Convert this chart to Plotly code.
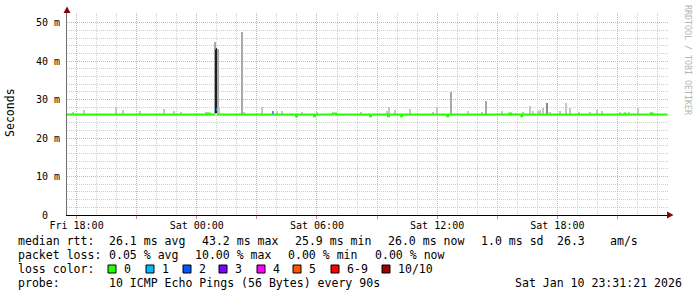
import plotly.graph_objects as go
import pandas as pd

# ---------------- data ----------------
t_start = "2026-01-09 17:31:21"
t_end = "2026-01-10 23:31:21"

x_tick_vals = ["2026-01-09 18:00", "2026-01-09 21:00", "2026-01-10 00:00", "2026-01-10 03:00",
               "2026-01-10 06:00", "2026-01-10 09:00", "2026-01-10 12:00", "2026-01-10 15:00",
               "2026-01-10 18:00", "2026-01-10 21:00"]
x_tick_text = ["Fri 18:00", "", "Sat 00:00", "", "Sat 06:00", "", "Sat 12:00", "", "Sat 18:00", ""]

y_tick_vals = [0, 10, 20, 30, 40, 50]
y_tick_text = ["0\u00a0\u00a0", "10 m", "20 m", "30 m", "40 m", "50 m"]

# median rtt (ms) as step series, with packet loss count per step
median_time = ["2026-01-09 17:31", "2026-01-10 00:33", "2026-01-10 00:39", "2026-01-10 00:54",
               "2026-01-10 00:58", "2026-01-10 01:01", "2026-01-10 03:45", "2026-01-10 03:48",
               "2026-01-10 04:57", "2026-01-10 05:00", "2026-01-10 05:51", "2026-01-10 05:54",
               "2026-01-10 06:48", "2026-01-10 06:57", "2026-01-10 08:39", "2026-01-10 08:42",
               "2026-01-10 09:33", "2026-01-10 09:36", "2026-01-10 10:12", "2026-01-10 10:15",
               "2026-01-10 12:30", "2026-01-10 12:33", "2026-01-10 15:36", "2026-01-10 15:42",
               "2026-01-10 16:12", "2026-01-10 16:15", "2026-01-10 21:21", "2026-01-10 21:24",
               "2026-01-10 22:42", "2026-01-10 22:45", "2026-01-10 23:30"]
median_val = [26.1, 26.4, 26.1, 43.2, 27.4, 26.1, 26.1, 26.1,
              25.7, 26.1, 25.7, 26.1, 26.4, 26.1, 25.7, 26.1,
              25.7, 26.1, 25.7, 26.1, 25.7, 26.1, 26.4, 26.1,
              25.7, 26.1, 26.4, 26.1, 26.4, 26.1, 26.0]
median_loss = [0, 0, 0, 1, 1, 0, 1, 0,
               0, 0, 0, 0, 0, 0, 0, 0,
               0, 0, 0, 0, 0, 0, 0, 0,
               0, 0, 0, 0, 0, 0, 0]

# smoke (spread of individual pings), ms
smoke_time = ["2026-01-09 17:48", "2026-01-09 18:21", "2026-01-09 19:57", "2026-01-09 20:20",
              "2026-01-09 21:09", "2026-01-09 22:21", "2026-01-09 22:51", "2026-01-09 23:12",
              "2026-01-10 00:27", "2026-01-10 00:54", "2026-01-10 00:57:30", "2026-01-10 01:03",
              "2026-01-10 01:06", "2026-01-10 02:15", "2026-01-10 02:21", "2026-01-10 03:15",
              "2026-01-10 03:47", "2026-01-10 04:00", "2026-01-10 04:14", "2026-01-10 05:15",
              "2026-01-10 06:00", "2026-01-10 08:12", "2026-01-10 09:30", "2026-01-10 09:36",
              "2026-01-10 09:54", "2026-01-10 10:39", "2026-01-10 11:48", "2026-01-10 12:00",
              "2026-01-10 12:43", "2026-01-10 13:33", "2026-01-10 14:15", "2026-01-10 14:27",
              "2026-01-10 15:15", "2026-01-10 15:57", "2026-01-10 16:17", "2026-01-10 16:39",
              "2026-01-10 16:48", "2026-01-10 17:03", "2026-01-10 17:09", "2026-01-10 17:17",
              "2026-01-10 17:30", "2026-01-10 17:39", "2026-01-10 18:09", "2026-01-10 18:27",
              "2026-01-10 18:39", "2026-01-10 19:06", "2026-01-10 19:39", "2026-01-10 20:00",
              "2026-01-10 20:15", "2026-01-10 21:09", "2026-01-10 21:36", "2026-01-10 22:03",
              "2026-01-10 22:42"]
smoke_low = [26.2] * 9 + [26.2, 26.6, 26.2] + [26.2] * 41
smoke_high = [26.7, 27.3, 28.0, 27.3, 27.0, 27.5, 27.0, 26.9,
              26.8, 45.0, 43.3, 43.2,
              28.2, 47.7, 26.8, 28.0, 27.0, 27.0, 27.0, 26.8,
              26.9, 26.9, 27.0, 28.0, 27.3, 27.5, 26.8, 28.1,
              31.9, 27.0, 26.8, 29.7, 27.0, 26.6, 26.8, 28.3,
              27.0, 27.0, 27.3, 27.9, 29.1, 26.8, 27.0, 29.1,
              27.9, 26.8, 26.8, 27.3, 27.0, 26.8, 26.8, 27.9,
              26.8]
smoke_pings = [1, 1, 1, 1, 1, 1, 1, 1,
               1, 2, 8, 2,
               1, 2, 1, 1, 3, 1, 1, 1,
               1, 1, 1, 1, 1, 1, 1, 1,
               2, 1, 1, 2, 1, 1, 1, 1,
               1, 1, 1, 1, 3, 1, 1, 1,
               1, 1, 1, 1, 1, 1, 1, 1,
               1]

loss_labels = ["0", "1", "2", "3", "4", "5", "6-9", "10/10"]
loss_colors = ["#26ff00", "#00b8ff", "#0059ff", "#7e00ff", "#ff00ff", "#ff5500", "#ff0000", "#a10000"]

rtt_stats = ["26.1 ms avg", "43.2 ms max", "25.9 ms min", "26.0 ms now", "1.0 ms sd", "26.3", "am/s"]
loss_stats = ["0.05 % avg", "10.00 % max", "0.00 % min", "0.00 % now"]
probe_text = "10 ICMP Echo Pings (56 Bytes) every 90s"
stamp_text = "Sat Jan 10 23:31:21 2026"

# ---------------- layout geometry ----------------
W, H = 697, 297
L, R, T, B = 67, 29, 13, 82
PW, PH = W - L - R, H - T - B
MONO = "DejaVu Sans Mono"
FS = 11.56


def px(x):
    return (x - L) / PW


def py(y):
    return (H - B - y) / PH


fig = go.Figure()

# smoke
shade = {1: "#c6c6c6", 2: "#a9a9a9", 3: "#8a8a8a", 8: "#1e1e1e"}
widths = [420000 if p == 8 else 200000 for p in smoke_pings]
fig.add_trace(go.Bar(
    x=smoke_time, base=smoke_low,
    y=[h - l for h, l in zip(smoke_high, smoke_low)],
    width=widths,
    marker=dict(color=[shade[p] for p in smoke_pings], line=dict(width=0)),
    hoverinfo="skip", showlegend=False))

# median line, coloured by loss (vertical joins only inside the no-loss line)
for code in sorted(set(median_loss)):
    xs, ys = [], []
    n = len(median_time) - 1
    for i in range(n):
        if median_loss[i] != code:
            continue
        xs += [median_time[i], median_time[i + 1]]
        ys += [median_val[i], median_val[i]]
        if code == 0 and i + 1 < n and median_loss[i + 1] == code:
            xs.append(median_time[i + 1])
            ys.append(median_val[i + 1])
        else:
            xs.append(None)
            ys.append(None)
    fig.add_trace(go.Scatter(x=xs, y=ys, mode="lines",
                             line=dict(color=loss_colors[code], width=2),
                             hoverinfo="skip", showlegend=False, connectgaps=False))

minor_x = [t for t in pd.date_range("2026-01-09 18:00", "2026-01-10 23:00", freq="1h")
           if t.hour % 3 != 0]
minor_y = [v for v in range(2, 51, 2) if v % 10 != 0]

fig.update_layout(
    width=W, height=H, autosize=False,
    margin=dict(l=L, r=R, t=T, b=B, pad=0),
    paper_bgcolor="white", plot_bgcolor="white",
    showlegend=False, bargap=0,
    font=dict(family=MONO, size=10, color="#000000"),
    xaxis=dict(
        type="date", range=[t_start, t_end],
        tickmode="array", tickvals=x_tick_vals, ticktext=x_tick_text,
        showgrid=True, gridcolor="#eba6a6", griddash="1px,1px", gridwidth=1,
        ticks="outside", ticklen=3, tickcolor="#e08a8a",
        ticklabelstandoff=-2,
        showline=True, linecolor="#000000", linewidth=1,
        zeroline=False, tickfont=dict(family=MONO, size=10, color="#000000"),
        minor=dict(tickmode="array", tickvals=minor_x, showgrid=True,
                   gridcolor="#cdcdcd", griddash="1px,1px", ticks=""),
        fixedrange=True,
    ),
    yaxis=dict(
        range=[0, PH / 3.846],
        tickmode="array", tickvals=y_tick_vals, ticktext=y_tick_text,
        showgrid=True, gridcolor="#eba6a6", griddash="1px,1px", gridwidth=1,
        ticks="outside", ticklen=4, tickcolor="rgba(0,0,0,0)",
        showline=True, linecolor="#707070", linewidth=1,
        zeroline=False, tickfont=dict(family=MONO, size=10, color="#000000"),
        minor=dict(tickmode="array", tickvals=minor_y, showgrid=True,
                   gridcolor="#cdcdcd", griddash="1px,1px", ticks=""),
        fixedrange=True,
    ),
)

ann = []


def text(x, y, s, size=FS, color="#000000", angle=0, xanchor="left"):
    ann.append(dict(x=px(x), y=py(y), xref="paper", yref="paper", text=s,
                    showarrow=False, xanchor=xanchor, yanchor="middle",
                    textangle=angle, font=dict(family=MONO, size=size, color=color)))


text(10, 113, "Seconds", angle=-90, xanchor="center")
text(688, 60, "RRDTOOL / TOBI OETIKER", size=8.3, color="#b4b4b4", angle=90, xanchor="center")

text(16, 241, "median rtt:")
for s, x in zip(rtt_stats, [107, 200, 293, 386, 479, 555, 608]):
    text(x, 241, s)
text(16, 255, "packet loss:")
for s, x in zip(loss_stats, [107, 193, 286, 373]):
    text(x, 255, s)
text(16, 269, "loss color:")
box_x = [108, 146, 183, 219, 257, 293, 331, 382]
shapes = []
for lab, col, bx in zip(loss_labels, loss_colors, box_x):
    shapes.append(dict(type="rect", xref="paper", yref="paper",
                       x0=px(bx), x1=px(bx + 8), y0=py(273), y1=py(265),
                       fillcolor=col, line=dict(color="#000000", width=1)))
    text(bx + 14, 269, lab)
text(16, 283, "probe:")
text(107, 283, probe_text)
text(513, 283, stamp_text)

# axis arrows
shapes.append(dict(type="path", xref="paper", yref="paper",
                   path=f"M {px(63.5)},{py(13)} L {px(70.5)},{py(13)} L {px(67)},{py(6.5)} Z",
                   fillcolor="#8b0000", line=dict(width=0)))
shapes.append(dict(type="path", xref="paper", yref="paper",
                   path=f"M {px(667)},{py(211.5)} L {px(667)},{py(218.5)} L {px(673.5)},{py(215)} Z",
                   fillcolor="#8b0000", line=dict(width=0)))

fig.update_layout(annotations=ann, shapes=shapes)
fig.write_html("out.html")
